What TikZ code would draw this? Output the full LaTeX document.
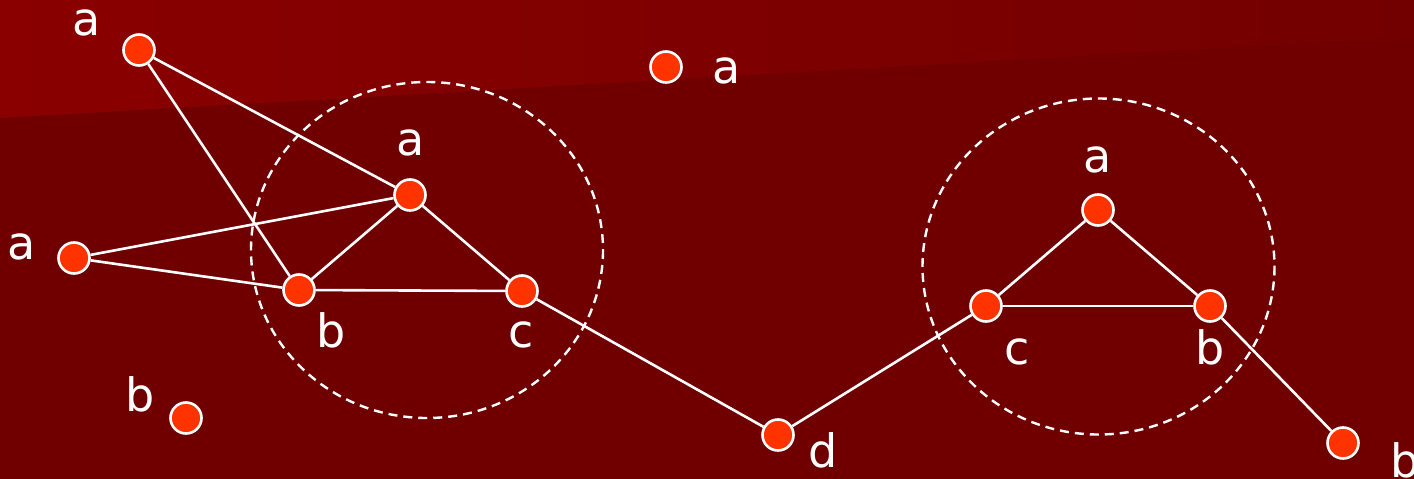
\documentclass[tikz,border=0pt]{standalone}
\usepackage{fontspec}
\setmainfont{DejaVu Sans}
\definecolor{bgmain}{HTML}{700000}
\definecolor{bgtopL}{HTML}{8A0000}
\definecolor{bgtopR}{HTML}{730000}
\definecolor{dotfill}{HTML}{FF3300}
\begin{document}
\begin{tikzpicture}[x=1pt,y=-1pt,
  dot/.style={circle,fill=dotfill,draw=white,line width=2.6pt,minimum size=31pt,inner sep=0pt},
  lbl/.style={text=white,font=\fontsize{46}{46}\selectfont,inner sep=0pt,anchor=base},
  edge/.style={white,line width=2.6pt},
  ring/.style={white,line width=2.4pt,dash pattern=on 9pt off 6pt}]
\useasboundingbox (0,0) rectangle (1414,479);
\fill[bgmain] (0,0) rectangle (1414,479);
\shade[left color=bgtopL,right color=bgtopR] (0,0) -- (1414,0) -- (1414,37) -- (0,118) -- cycle;
% dashed rings
\draw[ring] (427,250) ellipse [x radius=176, y radius=168];
\draw[ring] (1098.5,266.5) ellipse [x radius=176, y radius=168];
% nodes
\node[dot] (A1) at (139,50) {};
\node[dot] (A2) at (666,67) {};
\node[dot] (A3) at (410,195) {};
\node[dot] (A4) at (74,258) {};
\node[dot] (B1) at (299,290) {};
\node[dot] (C1) at (522,291) {};
\node[dot] (B2) at (186,418) {};
\node[dot] (D) at (778,435) {};
\node[dot] (A5) at (1098,210) {};
\node[dot] (C2) at (986,306) {};
\node[dot] (B3) at (1210,306) {};
\node[dot] (B4) at (1343,443) {};
% edges
\draw[edge] (A1) -- (A3);
\draw[edge] (A1) -- (B1);
\draw[edge] (A4) -- (A3);
\draw[edge] (A4) -- (B1);
\draw[edge] (A3) -- (B1);
\draw[edge] (A3) -- (C1);
\draw[edge] (B1) -- (C1);
\draw[edge] (C1) -- (D);
\draw[edge] (D) -- (C2);
\draw[edge] (C2) -- (A5);
\draw[edge] (A5) -- (B3);
\draw[edge] (C2) -- (B3);
\draw[edge] (B3) -- (B4);
% labels
\node[lbl] (lA1) at (87,35) {a};
\node[lbl] (lA2) at (727,83) {a};
\node[lbl] (lA3) at (411,155) {a};
\node[lbl] (lA4) at (22,259) {a};
\node[lbl] (lB1) at (331,347) {b};
\node[lbl] (lC1) at (521,347) {c};
\node[lbl] (lB2) at (140,411) {b};
\node[lbl] (lD) at (823,467) {d};
\node[lbl] (lA5) at (1098,172) {a};
\node[lbl] (lC2) at (1017,364) {c};
\node[lbl] (lB3) at (1210,364) {b};
\node[lbl] (lB4) at (1405,477) {b};
\end{tikzpicture}
\end{document}
